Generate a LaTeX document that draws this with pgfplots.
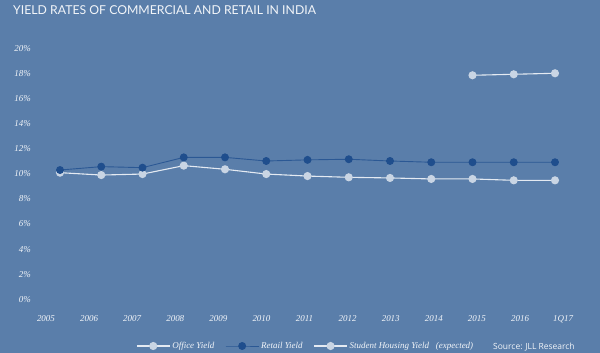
\documentclass[border=0pt]{standalone}
\usepackage{pgfplots}
\pgfplotsset{compat=1.18}
\usepackage{fontspec}
\setmainfont{Liberation Serif}
\newfontfamily\titlefont{Lato}
\newfontfamily\srcfont{Open Sans}
\definecolor{bg}{HTML}{5A7EAA}
\definecolor{tickc}{HTML}{F2F5F9}
\definecolor{offline}{HTML}{E4EAF2}
\definecolor{offmark}{HTML}{C9D5E4}
\definecolor{retline}{HTML}{2B5894}
\definecolor{retmark}{HTML}{1F4E8D}
\begin{document}
\begin{tikzpicture}
\begin{axis}[
  scale only axis, width=600bp, height=353bp,
  xmin=-1.4545, xmax=13.0909, ymin=-4.279, ymax=23.849,
  axis background/.style={fill=bg},
  axis line style={draw=none}, tick style={draw=none},
  clip=false,
  xtick={-0.340,0.705,1.750,2.794,3.839,4.884,5.929,6.974,8.018,9.063,10.108,11.153,12.198},
  xticklabels={2005,2006,2007,2008,2009,2010,2011,2012,2013,2014,2015,2016,1Q17},
  ytick={0,2,4,6,8,10,12,14,16,18,20},
  yticklabels={0\%,2\%,4\%,6\%,8\%,10\%,12\%,14\%,16\%,18\%,20\%},
  xticklabel style={anchor=base, yshift=32bp, font=\fontsize{9}{9}\selectfont\itshape, text=tickc},
  yticklabel style={anchor=east, inner sep=0pt, xshift=31bp, font=\fontsize{9}{9}\selectfont\itshape, text=tickc},
  legend style={at={(rel axis cs:0.2267,0.0198)}, anchor=west, draw=none, fill=none, inner sep=0pt,
    font=\fontsize{9}{9}\selectfont\itshape, text=tickc,
    /tikz/every even column/.append style={column sep=9bp}},
  legend columns=-1,
  legend image code/.code={\draw[mark repeat=2,mark phase=2,#1] plot coordinates {(0bp,0bp)(16.5bp,0bp)(33bp,0bp)};},
]
\addplot[color=offline, line width=1.1bp, mark=*, mark size=3.5, mark options={fill=offmark, draw=offmark}]
coordinates {(0,10.09)(1,9.90)(2,9.98)(3,10.65)(4,10.36)(5,9.98)(6,9.82)(7,9.72)(8,9.67)(9,9.59)(10,9.59)(11,9.48)(12,9.48)};
\addlegendentry{Office Yield}
\addplot[color=retline, line width=0.9bp, mark=*, mark size=3.5, mark options={fill=retmark, draw=retmark}]
coordinates {(0,10.30)(1,10.57)(2,10.49)(3,11.31)(4,11.31)(5,11.02)(6,11.11)(7,11.16)(8,11.02)(9,10.92)(10,10.92)(11,10.92)(12,10.92)};
\addlegendentry{Retail Yield}
\addplot[color=offline, line width=1.1bp, mark=*, mark size=3.5, mark options={fill=offmark, draw=offmark}]
coordinates {(10,17.85)(11,17.93)(12,18.01)};
\addlegendentry{Student Housing Yield\ \ \ (expected)}
\node[anchor=base west, inner sep=0pt, font=\titlefont\fontsize{12.3}{12.3}\selectfont, text=tickc] at (rel axis cs:0.0217,0.9603) {YIELD RATES OF COMMERCIAL AND RETAIL IN INDIA};
\node[anchor=base west, inner sep=0pt, font=\srcfont\fontsize{8.5}{8.5}\selectfont, text=tickc] at (rel axis cs:0.8217,0.0113) {Source: JLL Research};
\end{axis}
\end{tikzpicture}
\end{document}
